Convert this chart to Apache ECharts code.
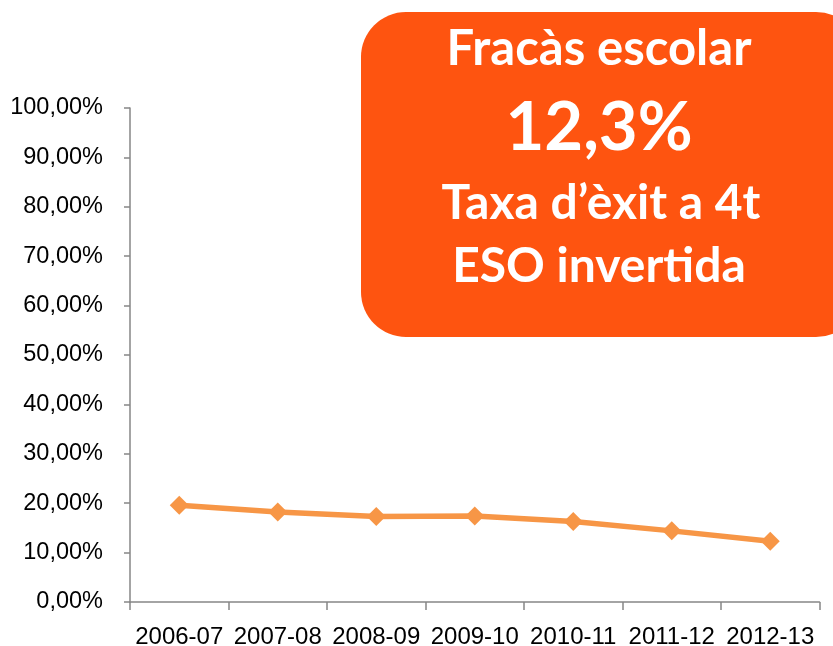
<!DOCTYPE html>
<html>
<head>
<meta charset="utf-8">
<script src="https://cdn.jsdelivr.net/npm/echarts@6/dist/echarts.min.js"></script>
<style>
html,body{margin:0;padding:0;background:#fff;}
#chart{width:833px;height:646px;}
</style>
</head>
<body>
<div id="chart"></div>
<script>
const categories = ['2006-07','2007-08','2008-09','2009-10','2010-11','2011-12','2012-13'];
const values = [19.6, 18.2, 17.3, 17.4, 16.3, 14.4, 12.3];
const boxLines = ['Fracàs escolar', '12,3%', 'Taxa d\u2019èxit a 4t', 'ESO invertida'];

const chart = echarts.init(document.getElementById('chart'));
const axisColor = '#868686';
const labelFont = 'Liberation Sans';
chart.setOption({
  animation: false,
  grid: { left: 130, right: 13.5, top: 108, bottom: 44, containLabel: false, outerBoundsMode: 'none' },
  xAxis: {
    type: 'category',
    data: categories,
    boundaryGap: true,
    axisLine: { lineStyle: { color: axisColor, width: 1.5 } },
    axisTick: { show: true, length: 8, lineStyle: { color: axisColor, width: 1.5 } },
    axisLabel: { color: '#000', fontFamily: labelFont, fontSize: 24, margin: 23, interval: 0 }
  },
  yAxis: {
    type: 'value',
    min: 0, max: 100, interval: 10,
    splitLine: { show: false },
    axisLine: { show: true, lineStyle: { color: axisColor, width: 1.5 } },
    axisTick: { show: true, length: 6, lineStyle: { color: axisColor, width: 1.5 } },
    axisLabel: {
      color: '#000', fontFamily: labelFont, fontSize: 23.5, margin: 27,
      formatter: v => v.toFixed(2).replace('.', ',') + '%'
    }
  },
  series: [{
    type: 'line',
    data: values,
    symbol: 'diamond',
    symbolSize: 19,
    lineStyle: { color: '#F79646', width: 5.5 },
    itemStyle: { color: '#F79646' }
  }],
  graphic: [
    { type: 'rect', shape: { x: 361, y: 12, width: 500, height: 325, r: 45 }, style: { fill: '#FE5410' } },
    { type: 'text', x: 599, y: 25, style: { text: boxLines[0], fill: '#fff', font: 'bold 49px Lato', textAlign: 'center', textVerticalAlign: 'top' } },
    { type: 'text', x: 599, y: 95, style: { text: boxLines[1], fill: '#fff', font: 'bold 67px Lato', textAlign: 'center', textVerticalAlign: 'top' } },
    { type: 'text', x: 601, y: 180, style: { text: boxLines[2], fill: '#fff', font: 'bold 48px Lato', textAlign: 'center', textVerticalAlign: 'top' } },
    { type: 'text', x: 599, y: 243, style: { text: boxLines[3], fill: '#fff', font: 'bold 48px Lato', textAlign: 'center', textVerticalAlign: 'top' } }
  ]
});
</script>
</body>
</html>
